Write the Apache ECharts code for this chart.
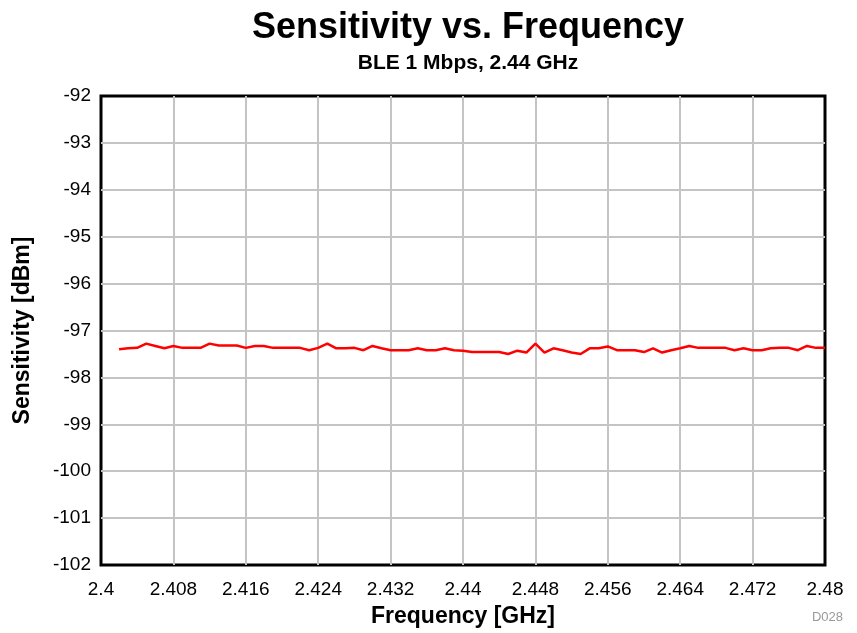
<!DOCTYPE html>
<html>
<head>
<meta charset="utf-8">
<script src="https://cdn.jsdelivr.net/npm/echarts@6/dist/echarts.min.js"></script>
<style>
  html, body { margin: 0; padding: 0; background: #fff; }
  #chart { width: 857px; height: 633px; }
</style>
</head>
<body>
<div id="chart"></div>
<script>
  // frequency points, GHz (1 MHz step)
  var freqStart = 2.402
  var freqStep = 0.001
  // sensitivity, dBm
  var sensitivity = [
    -97.40, -97.38, -97.37, -97.28, -97.33, -97.38, -97.33, -97.37, -97.37, -97.37,
    -97.28, -97.32, -97.32, -97.32, -97.37, -97.33, -97.33, -97.37, -97.37, -97.37,
    -97.37, -97.42, -97.37, -97.28, -97.38, -97.38, -97.37, -97.42, -97.33, -97.38,
    -97.42, -97.42, -97.42, -97.38, -97.42, -97.42, -97.38, -97.42, -97.43, -97.46,
    -97.46, -97.46, -97.46, -97.50, -97.43, -97.47, -97.28, -97.47, -97.38, -97.42,
    -97.47, -97.50, -97.38, -97.38, -97.34, -97.42, -97.42, -97.42, -97.46, -97.38,
    -97.47, -97.42, -97.38, -97.33, -97.37, -97.37, -97.37, -97.37, -97.42, -97.38,
    -97.42, -97.42, -97.38, -97.37, -97.37, -97.42, -97.33, -97.37, -97.37
  ]
  var xMin = 2.4, xMax = 2.48, xStep = 0.008
  var yMin = -102, yMax = -92, yStep = 1

  var points = []
  for (let i = 0; i < sensitivity.length; i++) {
    points.push([+(freqStart + i * freqStep).toFixed(3), sensitivity[i]])
  }

  var chart = echarts.init(document.getElementById('chart'))
  var font = 'Liberation Sans, Arial, Helvetica, sans-serif'

  var option = {
    animation: false,
    textStyle: { fontFamily: font },
    title: [
      {
        text: 'Sensitivity vs. Frequency',
        left: 463, top: 5, textAlign: 'center',
        textStyle: { fontSize: 36, fontWeight: 'bold', color: '#000', fontFamily: font }
      },
      {
        text: 'BLE 1 Mbps, 2.44 GHz',
        left: 463, top: 48, textAlign: 'center',
        textStyle: { fontSize: 21, fontWeight: 'bold', color: '#000', fontFamily: font }
      },
      {
        text: 'D028',
        right: 9, bottom: 4,
        textStyle: { fontSize: 13, fontWeight: 'normal', color: '#999', fontFamily: font }
      }
    ],
    grid: {
      left: 101, right: 32, top: 96, bottom: 67,
      show: true, borderColor: '#000', borderWidth: 3,
      containLabel: false
    },
    xAxis: {
      type: 'value',
      min: xMin, max: xMax, interval: xStep,
      name: 'Frequency [GHz]',
      nameLocation: 'middle', nameGap: 40,
      nameTextStyle: { fontSize: 23, fontWeight: 'bold', color: '#000' },
      axisLine: { show: false },
      axisTick: { show: false },
      axisLabel: {
        fontSize: 19, color: '#000', margin: 15,
        formatter: function (v) { return String(parseFloat(v.toFixed(3))) }
      },
      splitLine: { showMinLine: false, showMaxLine: false, lineStyle: { color: '#c4c4c4', width: 2 } }
    },
    yAxis: {
      type: 'value',
      min: yMin, max: yMax, interval: yStep,
      name: 'Sensitivity [dBm]',
      nameLocation: 'middle', nameGap: 67, nameRotate: 90,
      nameTextStyle: { fontSize: 23, fontWeight: 'bold', color: '#000' },
      axisLine: { show: false },
      axisTick: { show: false },
      axisLabel: { fontSize: 19, color: '#000', margin: 10 },
      splitLine: { showMinLine: false, showMaxLine: false, lineStyle: { color: '#c4c4c4', width: 2 } }
    },
    series: [
      {
        name: 'Sensitivity',
        type: 'line',
        data: points,
        showSymbol: false,
        lineStyle: { color: '#ff0000', width: 2.5 },
        z: 5
      }
    ]
  }

  chart.setOption(option)
</script>
</body>
</html>
